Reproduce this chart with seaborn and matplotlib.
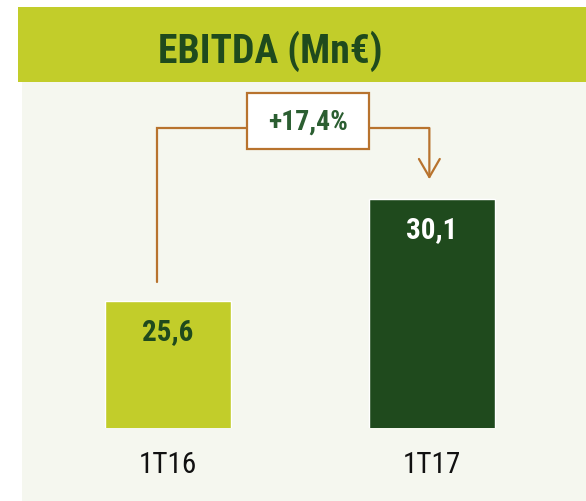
import matplotlib
matplotlib.use('Agg')

import matplotlib.pyplot as plt
import seaborn as sns
from matplotlib.patches import Rectangle
from matplotlib import font_manager

# ================= DATA =================
periods = ["1T16", "1T17"]
ebitda = [25.6, 30.1]
growth_label = "+17,4%"
title = "EBITDA (Mn€)"

# ================= STYLE =================
LIME = "#c2cd2a"
DARK = "#1f4a1d"
PANEL = "#f5f7ef"
BROWN = "#b8732e"
TEXT_GREEN = "#2b5e31"

sns.set_theme(style="white")

# condensed face if one is around, otherwise plain Arial metrics
names = {f.name for f in font_manager.fontManager.ttflist}
narrow = None
for cand in ["Liberation Sans Narrow", "Roboto Condensed", "Open Sans Condensed"]:
    if cand in names:
        narrow = cand
        break
if narrow:
    plt.rcParams['font.family'] = [narrow, 'Liberation Sans', 'DejaVu Sans']
    shrink = 1.0
else:
    plt.rcParams['font.family'] = ['Liberation Sans', 'DejaVu Sans']
    shrink = 0.82

W, H = 586, 502
fig = plt.figure(figsize=(W / 100, H / 100), dpi=100)
fig.patch.set_facecolor("white")

# background panel + header band
fig.patches.append(Rectangle((22 / W, 0), 1, 1 - 83 / H, transform=fig.transFigure,
                             facecolor=PANEL, edgecolor="none", zorder=-5))
fig.patches.append(Rectangle((18 / W, 1 - 83 / H), 1, 75 / H, transform=fig.transFigure,
                             facecolor=LIME, edgecolor="none", zorder=-5))
fig.text(270 / W, 1 - 63 / H, title, ha="center", va="baseline",
         fontsize=28.5 * shrink, fontweight="bold", color=DARK)

# ================= BARS =================
ax = fig.add_axes([36 / W, 1 - 428.5 / H, 528 / W, 345.5 / H])
ax.set_facecolor("none")
ax.set_zorder(2)
sns.barplot(x=periods, y=ebitda, hue=periods, palette=[LIME, DARK],
            legend=False, width=0.48, saturation=1, ax=ax)
ax.set_ylim(20, 35.24)
ax.set_xlim(-0.5, 1.5)
sns.despine(ax=ax, left=True, bottom=True)
ax.set_yticks([])
ax.set_xlabel("")
ax.set_ylabel("")
ax.tick_params(axis="x", length=0, pad=16, labelsize=21 * (shrink ** 0.5), labelcolor="#111111")

label_colors = [DARK, "white"]
for i, v in enumerate(ebitda):
    ax.text(i, v - 1.35, f"{v:.1f}".replace(".", ","), ha="center", va="center",
            fontsize=21 * shrink, fontweight="bold", color=label_colors[i])

# ================= GROWTH BRACKET =================
y_top = 33.21
x_left = -0.04
x_right = 0.99
ax.plot([x_left, x_left, x_right], [ebitda[0] + 0.82, y_top, y_top],
        color=BROWN, lw=1.6, solid_joinstyle="miter", zorder=3)
ax.annotate("", xy=(x_right, ebitda[1] + 0.85), xytext=(x_right, y_top),
            arrowprops=dict(arrowstyle="->,head_length=1.3,head_width=0.75",
                            mutation_scale=10, color=BROWN, lw=1.6,
                            shrinkA=0, shrinkB=0), zorder=3)

# label box over the bracket
box_x, box_y = 0.53, 33.52
box_w, box_h = 0.462, 2.47
ax.add_patch(Rectangle((box_x - box_w / 2, box_y - box_h / 2), box_w, box_h,
                       facecolor="white", edgecolor=BROWN, lw=1.6, zorder=4))
ax.text(box_x, box_y, growth_label, ha="center", va="center",
        fontsize=20 * shrink, fontweight="bold", color=TEXT_GREEN, zorder=5)

plt.savefig("out.png", dpi=100)
plt.close()
